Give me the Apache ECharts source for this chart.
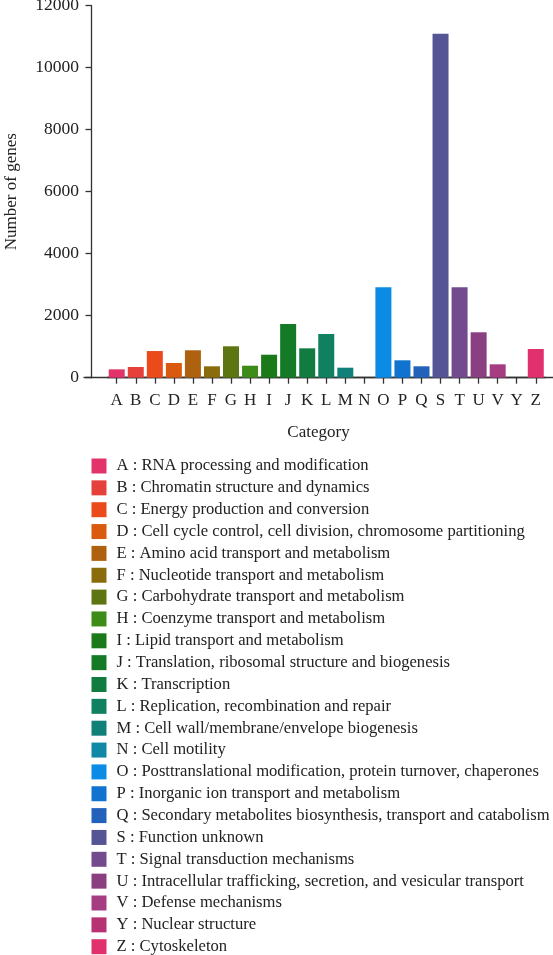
<!DOCTYPE html>
<html>
<head>
<meta charset="utf-8">
<script src="https://cdn.jsdelivr.net/npm/echarts@6/dist/echarts.min.js"></script>
<style>
html,body{margin:0;padding:0;background:#fff;}
#chart{width:553px;height:955px;}
</style>
</head>
<body>
<div id="chart"></div>
<script>
var categories = ['A','B','C','D','E','F','G','H','I','J','K','L','M','N','O','P','Q','S','T','U','V','Y','Z'];
var descriptions = [
  'RNA processing and modification',
  'Chromatin structure and dynamics',
  'Energy production and conversion',
  'Cell cycle control, cell division, chromosome partitioning',
  'Amino acid transport and metabolism',
  'Nucleotide transport and metabolism',
  'Carbohydrate transport and metabolism',
  'Coenzyme transport and metabolism',
  'Lipid transport and metabolism',
  'Translation, ribosomal structure and biogenesis',
  'Transcription',
  'Replication, recombination and repair',
  'Cell wall/membrane/envelope biogenesis',
  'Cell motility',
  'Posttranslational modification, protein turnover, chaperones',
  'Inorganic ion transport and metabolism',
  'Secondary metabolites biosynthesis, transport and catabolism',
  'Function unknown',
  'Signal transduction mechanisms',
  'Intracellular trafficking, secretion, and vesicular transport',
  'Defense mechanisms',
  'Nuclear structure',
  'Cytoskeleton'
];
var geneCounts = [270, 345, 860, 475, 885, 368, 1013, 387, 742, 1732, 948, 1410, 323, 0, 2916, 561, 368, 11097, 2916, 1465, 432, 0, 926];
var yTicks = [0, 2000, 4000, 6000, 8000, 10000, 12000];
var colors = ['#E2336A','#E6403B','#EB4A1B','#D95A0E','#AE620F','#8A6C0D','#5E7612','#3E8C18','#1A7A1A','#157A25','#127C40','#0F8060','#108079','#1088A6','#0A8CE6','#1173D0','#2262BA','#555596','#734A8E','#8A3F80','#A63C82','#B63272','#E0306E'];

var FONT = 'Liberation Serif';
var series = categories.map(function (c, i) {
  var d = categories.map(function (cc, j) { return j === i ? geneCounts[i] : '-'; });
  return {
    name: c,
    type: 'bar',
    stack: 'all',
    xAxisIndex: 0,
    yAxisIndex: 0,
    barWidth: 16,
    data: d,
    itemStyle: { color: colors[i] }
  };
});

var chart = echarts.init(document.getElementById('chart'), null, { renderer: 'canvas' });
chart.setOption({
  animation: false,
  backgroundColor: '#fff',
  grid: [
    { left: 107.2, right: 7.7, top: 5.7, bottom: 577.3, containLabel: false, outerBoundsMode: 'none' },
    { left: 84, right: 0, top: 5.7, bottom: 577.3, containLabel: false, outerBoundsMode: 'none' }
  ],
  xAxis: [
    {
      type: 'category',
      gridIndex: 0,
      data: categories,
      axisLine: { show: true, lineStyle: { color: '#333', width: 1.3 } },
      axisTick: { show: true, alignWithLabel: true, length: 6, lineStyle: { color: '#333', width: 1.3 } },
      axisLabel: { color: '#222', fontFamily: FONT, fontSize: 17, margin: 14, interval: 0 },
      splitLine: { show: false }
    },
    {
      type: 'value',
      gridIndex: 1,
      min: 0, max: 1,
      axisLine: { show: true, lineStyle: { color: '#333', width: 1.3 } },
      axisTick: { show: false },
      axisLabel: { show: false },
      splitLine: { show: false },
      name: 'Category',
      nameLocation: 'middle',
      nameGap: 46,
      nameTextStyle: { color: '#222', fontFamily: FONT, fontSize: 17 }
    }
  ],
  yAxis: [
    {
      type: 'value',
      gridIndex: 0,
      min: yTicks[0],
      max: yTicks[yTicks.length - 1],
      interval: 2000,
      offset: 15.7,
      axisLine: { show: true, lineStyle: { color: '#333', width: 1.3 } },
      axisTick: { show: true, length: 6, lineStyle: { color: '#333', width: 1.3 } },
      axisLabel: { color: '#222', fontFamily: FONT, fontSize: 17.5, margin: 12.5, formatter: function (v) { return String(v); } },
      splitLine: { show: false },
      name: 'Number of genes',
      nameLocation: 'middle',
      nameGap: 71.5,
      nameRotate: 90,
      nameTextStyle: { color: '#222', fontFamily: FONT, fontSize: 17 }
    },
    { type: 'value', gridIndex: 1, show: false, min: 0, max: 1 }
  ],
  legend: {
    orient: 'vertical',
    left: 91.5,
    top: 457.5,
    height: 700,
    padding: 0,
    icon: 'rect',
    itemWidth: 15,
    itemHeight: 15,
    itemGap: 4.85,
    data: categories,
    formatter: function (name) {
      return name + ' : ' + descriptions[categories.indexOf(name)];
    },
    textStyle: { color: '#222', fontFamily: FONT, fontSize: 16.6, padding: [0, 0, 0, 5] }
  },
  series: series
});
</script>
</body>
</html>
